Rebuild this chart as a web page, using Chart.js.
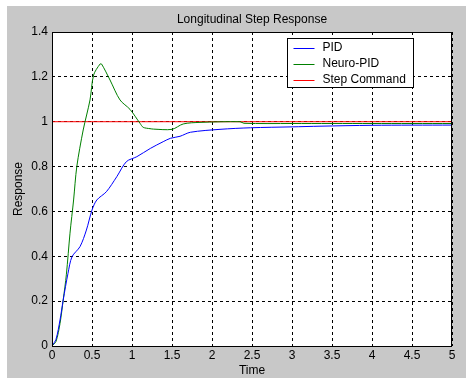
<!DOCTYPE html>
<html>
<head>
<meta charset="utf-8">
<script src="https://cdn.jsdelivr.net/npm/chart.js@4"></script>
<style>
  body { margin: 0; background: #ffffff; }
  #wrap { width: 472px; height: 378px; position: relative; }
</style>
</head>
<body>
<div id="wrap"><canvas id="stepChart" width="472" height="378"></canvas></div>
<script>
// values
const pidTime = [0, 0.05, 0.1, 0.14, 0.2, 0.25, 0.35, 0.43, 0.5, 0.56, 0.68, 0.81, 0.93, 1.06, 1.23, 1.39, 1.48, 1.6, 1.73, 2.1, 2.48, 3.0, 3.35, 4.0, 5.0];
const pidValues = [0, 0.03, 0.116, 0.205, 0.324, 0.398, 0.443, 0.517, 0.606, 0.651, 0.688, 0.755, 0.822, 0.844, 0.881, 0.911, 0.926, 0.935, 0.953, 0.966, 0.973, 0.977, 0.98, 0.984, 0.985];

const neuroTime = [0, 0.05, 0.1, 0.14, 0.18, 0.225, 0.27, 0.31, 0.39, 0.475, 0.52, 0.6, 0.62, 0.725, 0.85, 0.975, 1.1, 1.14, 1.225, 1.27, 1.5, 1.64, 1.85, 2.35, 2.4, 3.0, 4.0, 5.0];
const neuroValues = [0, 0.02, 0.1, 0.205, 0.32, 0.503, 0.651, 0.8, 0.963, 1.097, 1.208, 1.257, 1.257, 1.186, 1.097, 1.055, 0.993, 0.975, 0.969, 0.967, 0.966, 0.99, 0.997, 1.0, 0.993, 0.992, 0.992, 0.992];

const stepTime = [0, 5];
const stepValues = [1, 1];

const seriesNames = ["PID", "Neuro-PID", "Step Command"];
const seriesColors = ["#0000ff", "#008000", "#ff0000"];

const xTicks = [0, 0.5, 1, 1.5, 2, 2.5, 3, 3.5, 4, 4.5, 5];
const yTicks = [0, 0.2, 0.4, 0.6, 0.8, 1, 1.2, 1.4];

function toPoints(xs, ys) {
    return xs.map((x, i) => ({x: x, y: ys[i]}));
}

const font = "'Liberation Sans', Arial, sans-serif";

// grey figure background and white axes box
const backdrop = {
    id: 'backdrop',
    beforeDraw(chart) {
        const c = chart.ctx;
        const a = chart.chartArea;
        c.save();
        c.fillStyle = '#ffffff';
        c.fillRect(0, 0, chart.width, chart.height);
        c.fillStyle = '#c8c8c8';
        c.fillRect(7, 6, 459, 372);
        c.fillStyle = '#ffffff';
        c.fillRect(a.left, a.top, a.right - a.left, a.bottom - a.top);
        c.restore();
    },
    afterDatasetsDraw(chart) {
        const c = chart.ctx;
        const a = chart.chartArea;
        c.save();
        c.strokeStyle = '#000000';
        c.lineWidth = 1;
        c.strokeRect(a.left + 0.5, a.top + 0.5, a.right - a.left - 1, a.bottom - a.top);
        c.restore();
    }
};

// MATLAB style legend box in the upper right of the axes
const boxLegend = {
    id: 'boxLegend',
    afterDraw(chart) {
        const c = chart.ctx;
        const left = 287.5, top = 38.5, w = 126, h = 49;
        c.save();
        c.fillStyle = '#ffffff';
        c.fillRect(left, top, w, h);
        c.strokeStyle = '#000000';
        c.lineWidth = 1;
        c.strokeRect(left, top, w, h);
        c.font = '12px ' + font;
        c.textBaseline = 'middle';
        chart.data.datasets.forEach((ds, i) => {
            const y = top + 9 + i * 16;
            c.strokeStyle = ds.borderColor;
            c.beginPath();
            c.moveTo(left + 6, Math.round(y) + 0.5);
            c.lineTo(left + 27, Math.round(y) + 0.5);
            c.stroke();
            c.fillStyle = '#000000';
            c.fillText(ds.label, left + 35, y);
        });
        c.restore();
    }
};

const ctx = document.getElementById('stepChart').getContext('2d');

new Chart(ctx, {
    type: "line",
    data: {
        datasets: [{
            label: seriesNames[0],
            data: toPoints(pidTime, pidValues),
            borderColor: seriesColors[0],
            borderWidth: 1,
            pointRadius: 0,
            tension: 0.3,
            fill: false
        }, {
            label: seriesNames[1],
            data: toPoints(neuroTime, neuroValues),
            borderColor: seriesColors[1],
            borderWidth: 1,
            pointRadius: 0,
            tension: 0.3,
            fill: false
        }, {
            label: seriesNames[2],
            data: toPoints(stepTime, stepValues),
            borderColor: seriesColors[2],
            borderWidth: 1,
            pointRadius: 0,
            fill: false
        }]
    },
    options: {
        responsive: false,
        animation: false,
        layout: { padding: { left: 0, right: 20, top: 0, bottom: 0 } },
        scales: {
            x: {
                type: 'linear',
                min: 0,
                max: 5,
                afterBuildTicks: (scale) => { scale.ticks = xTicks.map(v => ({value: v})); },
                afterFit: (scale) => { scale.height = 32; },
                ticks: {
                    color: '#000000',
                    font: { family: font, size: 12 },
                    padding: 2,
                    maxRotation: 0,
                    callback: (v) => String(v)
                },
                grid: {
                    color: '#000000',
                    drawTicks: false,
                    tickBorderDash: [3, 3]
                },
                border: { display: false, dash: [3, 3] },
                title: {
                    display: true,
                    text: 'Time',
                    color: '#000000',
                    font: { family: font, size: 12 },
                    padding: { top: 0, bottom: 0 }
                }
            },
            y: {
                type: 'linear',
                min: 0,
                max: 1.4,
                afterBuildTicks: (scale) => { scale.ticks = yTicks.map(v => ({value: v})); },
                afterFit: (scale) => { scale.width = 52; },
                ticks: {
                    color: '#000000',
                    font: { family: font, size: 12 },
                    padding: 4,
                    callback: (v) => String(v)
                },
                grid: {
                    color: '#000000',
                    drawTicks: false
                },
                border: { display: false, dash: [3, 3] },
                title: {
                    display: true,
                    text: 'Response',
                    color: '#000000',
                    font: { family: font, size: 12 },
                    padding: { top: 11, bottom: 0 }
                }
            }
        },
        plugins: {
            legend: { display: false },
            tooltip: { enabled: false },
            title: {
                display: true,
                fullSize: false,
                text: 'Longitudinal Step Response',
                color: '#000000',
                font: { family: font, size: 12, weight: 'normal' },
                padding: { top: 12, bottom: 5.6 }
            }
        }
    },
    plugins: [backdrop, boxLegend]
});
</script>
</body>
</html>
